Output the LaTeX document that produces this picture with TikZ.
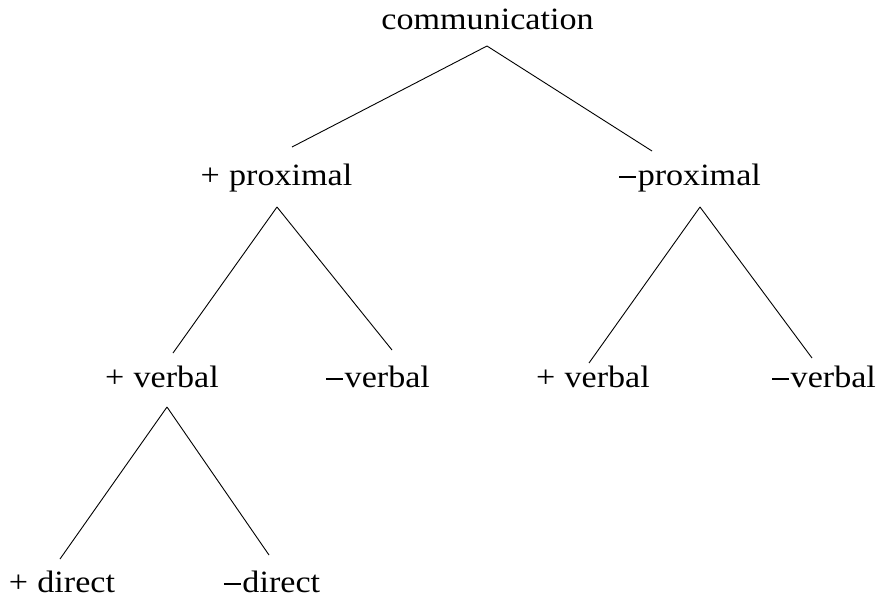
\documentclass[tikz,border=0pt]{standalone}
\usepackage{fontspec}
\setmainfont[FakeStretch=1.1]{Liberation Serif}
\newcommand{\mns}{\rule[0.24em]{0.55em}{0.045em}\hspace{0.05em}}
\begin{document}
\begin{tikzpicture}[x=1pt,y=-1pt,
  lab/.style={anchor=base,inner sep=0pt,font=\fontsize{31}{31}\selectfont},
  edge/.style={line width=0.9pt}]
\useasboundingbox[fill=white] (0,0) rectangle (885,597);
% labels
\node[lab] (root) at (487.5,29) {communication};
\node[lab] (pp) at (276.5,185) {+\hspace{0.3em}proximal};
\node[lab] (mp) at (690,185) {\mns proximal};
\node[lab] (pv) at (162,387) {+\hspace{0.3em}verbal};
\node[lab] (mv) at (378,387) {\mns verbal};
\node[lab] (pv2) at (593,387) {+\hspace{0.3em}verbal};
\node[lab] (mv2) at (824,387) {\mns verbal};
\node[lab] (pd) at (62,592) {+\hspace{0.3em}direct};
\node[lab] (md) at (272,592) {\mns direct};
% line ends
\coordinate (rootA) at (487,46);
\coordinate (ppT) at (292,147);
\coordinate (mpT) at (652,151);
\coordinate (ppA) at (277,207);
\coordinate (pvT) at (173,353);
\coordinate (mvT) at (392,350);
\coordinate (mpA) at (700,207);
\coordinate (pv2T) at (589,363);
\coordinate (mv2T) at (812,358);
\coordinate (pvA) at (167,407);
\coordinate (pdT) at (60,559);
\coordinate (mdT) at (269,555);
% connectors
\draw[edge] (rootA) -- (ppT);
\draw[edge] (rootA) -- (mpT);
\draw[edge] (ppA) -- (pvT);
\draw[edge] (ppA) -- (mvT);
\draw[edge] (mpA) -- (pv2T);
\draw[edge] (mpA) -- (mv2T);
\draw[edge] (pvA) -- (pdT);
\draw[edge] (pvA) -- (mdT);
\end{tikzpicture}
\end{document}
